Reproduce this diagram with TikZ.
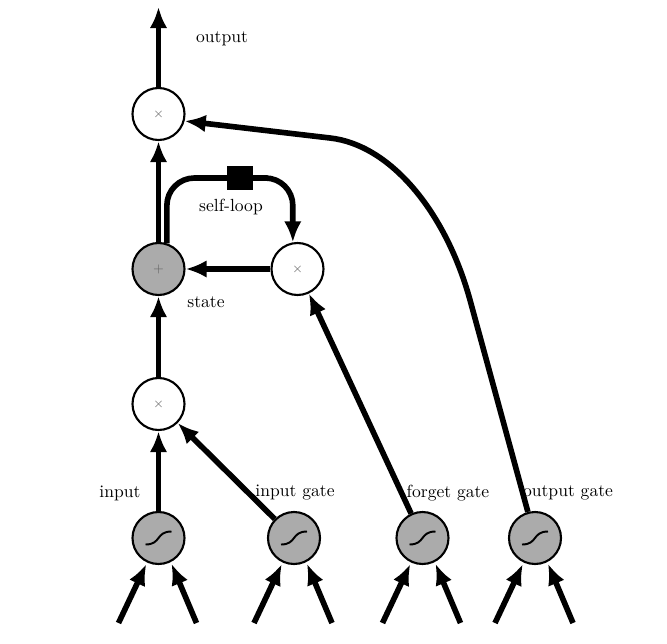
\documentclass[tikz,border=0pt]{standalone}
\usetikzlibrary{arrows.meta,calc}
\begin{document}
\begin{tikzpicture}[>={Latex[length=12pt,width=10pt]}, line width=3.2pt,
  unit/.style={circle, draw, line width=1.2pt, minimum size=1.04cm, inner sep=0pt, fill=white, font=\scriptsize, text=black!60},
  gunit/.style={unit, fill=black!33},
  sigunit/.style={gunit, path picture={\draw[line width=1.1pt, shift={(path picture bounding box.center)}]
      (-0.26,-0.13) .. controls (0.06,-0.13) and (-0.06,0.13) .. (0.26,0.13);}},
  lbl/.style={inner sep=0pt}]
\useasboundingbox (0,0) rectangle (13.34,12.86);
\def\y{2.10}
% units
\node[unit]  (omul) at (3.17,10.58) {$\times$};
\node[gunit] (sum)  at (3.17,7.48)  {$+$};
\node[unit]  (fmul) at (5.95,7.48)  {$\times$};
\node[unit]  (imul) at (3.17,4.78)  {$\times$};
\node[sigunit] (sin) at (3.17,\y)  {};
\node[sigunit] (sig) at (5.88,\y)  {};
\node[sigunit] (sfg) at (8.45,\y)  {};
\node[sigunit] (sog) at (10.70,\y) {};
\coordinate (out) at (3.17,12.72);
\coordinate (loop) at (4.80,9.30);
\coordinate (ogb) at (9.40,6.86);
\coordinate (oga) at (6.60,10.10);
% labels
\node[lbl] (lout)  at (4.44,12.08) {output};
\node[lbl] (lself) at (4.62,8.72)  {self-loop};
\node[lbl] (lsta)  at (4.12,6.82)  {state};
\node[lbl] (lin)   at (2.40,3.00)  {input};
\node[lbl] (lig)   at (5.90,3.00)  {input gate};
\node[lbl] (lfg)   at (8.96,3.00)  {forget gate};
\node[lbl] (log)   at (11.36,3.00) {output gate};
% connections
\draw[->] (omul) -- (out);
\draw[->] (sum) -- (omul);
\draw[->] (fmul) -- (sum);
\draw[->] (imul) -- (sum);
\draw[->] (sin) -- (imul);
\draw[->] (sig) -- (imul);
\draw[->] (sfg) -- (fmul);
\draw[->] (sog) -- (ogb) .. controls (8.90,8.67) and (7.78,9.97) .. (oga) -- (omul.-15);
\draw[->, rounded corners=0.55cm] (sum.72) |- (loop) -| (fmul.100);
\node[fill=black, minimum width=0.52cm, minimum height=0.48cm, inner sep=0pt] (delay) at (loop) {};
\foreach \s in {sin,sig,sfg,sog}{
  \coordinate (\s-l) at ($(\s)+(-0.80,-1.70)$);
  \coordinate (\s-r) at ($(\s)+(0.76,-1.70)$);
  \draw[->, shorten >=1pt] (\s-l) -- (\s.245);
  \draw[->, shorten >=1pt] (\s-r) -- (\s.297);
}
\end{tikzpicture}
\end{document}
